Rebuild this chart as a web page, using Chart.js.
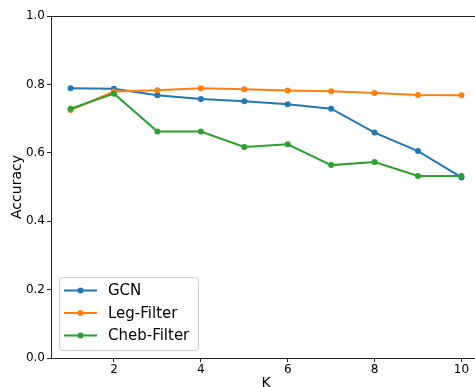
<!DOCTYPE html>
<html>
<head>
<meta charset="utf-8">
<script src="https://cdn.jsdelivr.net/npm/chart.js"></script>
<style>
  html, body { margin: 0; padding: 0; overflow: hidden; background: #fff; }
  #wrap { position: relative; width: 490px; height: 400px; }
</style>
</head>
<body>
<div id="wrap"><canvas id="chart" width="490" height="400"></canvas></div>
<script>
// Values
const kValues = [1, 2, 3, 4, 5, 6, 7, 8, 9, 10];
const gcnAcc = [0.789, 0.787, 0.768, 0.757, 0.751, 0.742, 0.729, 0.659, 0.605, 0.528];
const legAcc = [0.725, 0.779, 0.783, 0.789, 0.786, 0.782, 0.780, 0.775, 0.769, 0.768];
const chebAcc = [0.729, 0.773, 0.662, 0.662, 0.617, 0.625, 0.564, 0.573, 0.532, 0.532];
const xTicks = [2, 4, 6, 8, 10];
const yTicks = [0.0, 0.2, 0.4, 0.6, 0.8, 1.0];

const FONT = "'DejaVu Sans', sans-serif";

const makeSeries = (label, values, color, order) => ({
  label: label,
  data: kValues.map((k, i) => ({ x: k, y: values[i] })),
  borderColor: color,
  backgroundColor: color,
  borderWidth: 2,
  pointRadius: 3,
  pointBorderWidth: 0,
  pointBackgroundColor: color,
  tension: 0,
  order: order
});

// top spine (matplotlib draws a full box, right side is cut off in the picture)
const topSpine = {
  id: "topSpine",
  afterDraw(chart) {
    const { ctx, chartArea } = chart;
    ctx.save();
    ctx.strokeStyle = "#222";
    ctx.lineWidth = 1;
    ctx.beginPath();
    ctx.moveTo(chartArea.left, chartArea.top + 0.5);
    ctx.lineTo(chartArea.right, chartArea.top + 0.5);
    ctx.stroke();
    ctx.restore();
  }
};

// legend box in the lower left corner of the plot
const legendBox = {
  id: "legendBox",
  afterDraw(chart) {
    const ctx = chart.ctx;
    const x = 59.5, y = 277.5, w = 139, h = 73, r = 3;
    ctx.save();
    ctx.beginPath();
    ctx.moveTo(x + r, y);
    ctx.arcTo(x + w, y, x + w, y + h, r);
    ctx.arcTo(x + w, y + h, x, y + h, r);
    ctx.arcTo(x, y + h, x, y, r);
    ctx.arcTo(x, y, x + w, y, r);
    ctx.closePath();
    ctx.fillStyle = "rgba(255,255,255,0.8)";
    ctx.fill();
    ctx.strokeStyle = "#cccccc";
    ctx.lineWidth = 1;
    ctx.stroke();

    chart.data.datasets.forEach((ds, i) => {
      const cy = 290.5 + i * 22.5;
      ctx.strokeStyle = ds.borderColor;
      ctx.lineWidth = 2;
      ctx.beginPath();
      ctx.moveTo(64, cy);
      ctx.lineTo(97, cy);
      ctx.stroke();
      ctx.fillStyle = ds.borderColor;
      ctx.beginPath();
      ctx.arc(80.5, cy, 3, 0, Math.PI * 2);
      ctx.fill();
      ctx.fillStyle = "#000";
      ctx.font = "15px " + FONT;
      ctx.textBaseline = "middle";
      ctx.textAlign = "left";
      ctx.fillText(ds.label, 108, cy + 1);
    });
    ctx.restore();
  }
};

new Chart(document.getElementById("chart"), {
  type: "line",
  data: {
    datasets: [
      makeSeries("GCN", gcnAcc, "#1f77b4", 3),
      makeSeries("Leg-Filter", legAcc, "#ff7f0e", 2),
      makeSeries("Cheb-Filter", chebAcc, "#2ca02c", 1)
    ]
  },
  options: {
    responsive: false,
    animation: false,
    devicePixelRatio: 1,
    layout: { padding: { left: 0, top: 16, right: 9, bottom: 0 } },
    plugins: {
      legend: { display: false },
      tooltip: { enabled: false }
    },
    scales: {
      x: {
        type: "linear",
        min: 0.55,
        max: 10.45,
        afterBuildTicks: (s) => { s.ticks = xTicks.map(v => ({ value: v })); },
        afterFit: (s) => { s.height = 42; },
        grid: { drawOnChartArea: false, tickLength: 4, tickColor: "#222" },
        border: { color: "#222", width: 1 },
        ticks: { color: "#000", padding: 1, font: { family: FONT, size: 12 } },
        title: {
          display: true,
          text: "K",
          color: "#000",
          font: { family: FONT, size: 14 },
          padding: { top: 0, bottom: 8 }
        }
      },
      y: {
        min: 0,
        max: 1,
        afterBuildTicks: (s) => { s.ticks = yTicks.map(v => ({ value: v })); },
        afterFit: (s) => { s.width = 51; },
        grid: { drawOnChartArea: false, tickLength: 4, tickColor: "#222" },
        border: { color: "#222", width: 1 },
        ticks: {
          color: "#000",
          padding: 2,
          font: { family: FONT, size: 12 },
          callback: (v) => Number(v).toFixed(1)
        },
        title: {
          display: true,
          text: "Accuracy",
          color: "#000",
          font: { family: FONT, size: 14 },
          padding: { top: 8.6, bottom: 0 }
        }
      }
    }
  },
  plugins: [topSpine, legendBox]
});
</script>
</body>
</html>
